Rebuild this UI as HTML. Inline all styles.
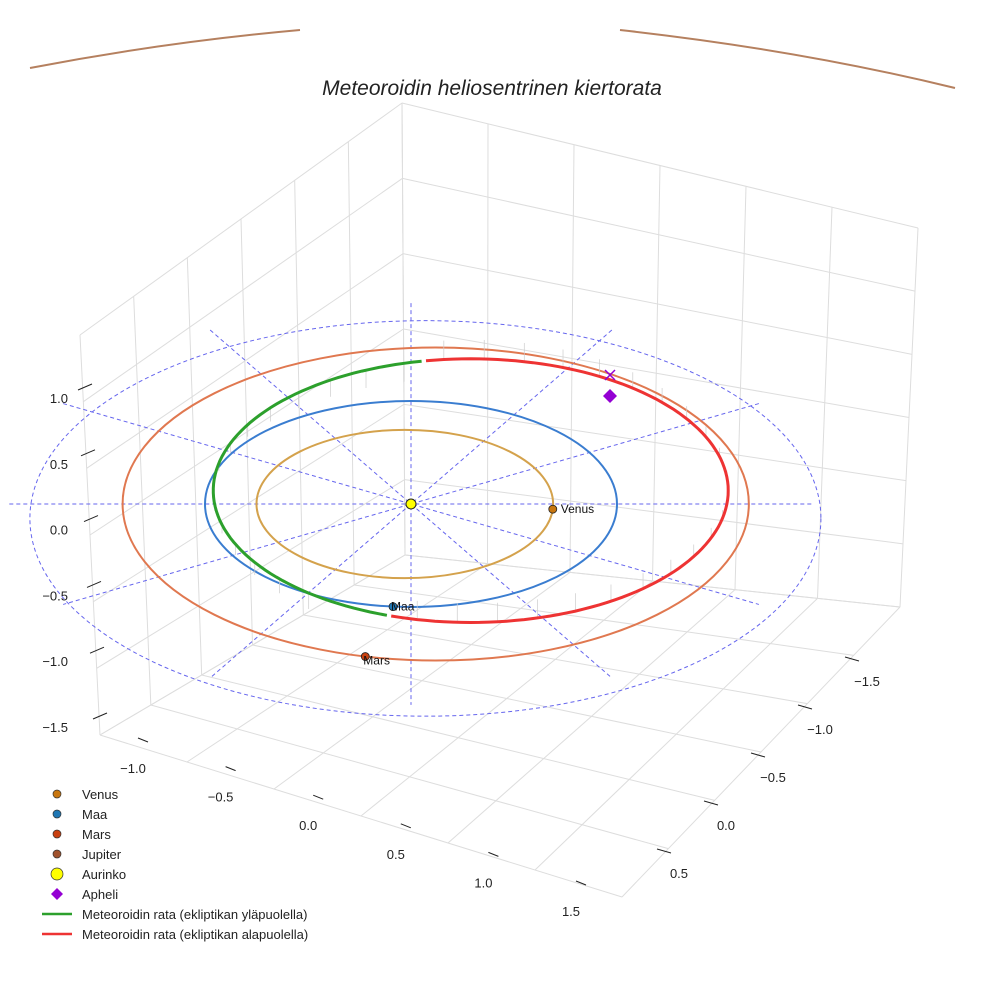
<!DOCTYPE html>
<html><head><meta charset="utf-8"><style>
body{margin:0;background:#fff}
svg{display:block;font-family:"Liberation Sans",sans-serif}
</style></head><body>
<svg id="c" width="984" height="984" viewBox="0 0 984 984">
<text x="492" y="95" text-anchor="middle" font-size="21" font-style="italic" fill="#222">Meteoroidin heliosentrinen kiertorata</text>
<path d="M30,68 Q165,42 300,30" fill="none" stroke="#b5805f" stroke-width="2"/>
<path d="M620,30 Q800,50 955,88" fill="none" stroke="#b5805f" stroke-width="2"/>
<g id="grid"></g><g id="plot"></g>
<g id="legend" font-size="13" fill="#222"></g>
</svg>
<script>
const zTicks=["1.0","0.5","0.0","\u22120.5","\u22121.0","\u22121.5"];
const xTicks=["\u22121.0","\u22120.5","0.0","0.5","1.0","1.5"];
const yTicks=["\u22121.5","\u22121.0","\u22120.5","0.0","0.5"];
const planetNames=["Venus","Maa","Mars"];
const planetRadius=[0.72,1.0,1.52];
const planetCenterX=[-0.03,0,0.12];
const planetAngle=[4,95,103];
const planetColors=["#d4a24c","#3a7dd0","#e07850"];
const dotColors=["#c8760f","#1f77b4","#c84010"];
const meteorCenter=[0.29,-0.13];
const meteorRadius=[1.25,1.28];
const greenRange=[109,260];
const NS="http://www.w3.org/2000/svg";
const svg=document.getElementById('c');
function el(t,a,p){const e=document.createElementNS(NS,t);for(const k in a)e.setAttribute(k,a[k]);(p||svg).appendChild(e);return e;}
const CX=411,CY=504,S=206;
function px(x){return CX+S*x;}
function py(y){return CY+S*0.5*y;}
const grid=document.getElementById('grid'),plot=document.getElementById('plot');
const A=[80,335],B=[402,103],C=[918,228],D=[900,607],E=[405,555],F=[100,735],G=[622,897];
function lerp(p,q,t){return [p[0]+(q[0]-p[0])*t,p[1]+(q[1]-p[1])*t];}
function wall(p0,p1,p2,p3,n,m,name){
 for(let i=0;i<=n;i++){const a=lerp(p0,p1,i/n),b=lerp(p3,p2,i/n);
  const l=el('line',{x1:a[0],y1:a[1],x2:b[0],y2:b[1],stroke:'#ddd','stroke-width':1},grid);
  }
 for(let j=0;j<=m;j++){const a=lerp(p0,p3,j/m),b=lerp(p1,p2,j/m);
  const l=el('line',{x1:a[0],y1:a[1],x2:b[0],y2:b[1],stroke:'#ddd','stroke-width':1},grid);
  }
}
wall(A,B,E,F,6,6,'left-wall');
wall(B,C,D,E,6,6,'right-wall');
wall(F,E,D,G,6,6,'floor');
zTicks.forEach((t,i)=>{const y=398+i*65.8;
 const l=el('line',{x1:78+i*3,y1:y-8,x2:92+i*3,y2:y-14,stroke:'#222'},grid);
 
 const tx=el('text',{x:68,y:y+5,'text-anchor':'end','font-size':13,fill:'#222'},grid);tx.textContent=t;
 });
xTicks.forEach((t,i)=>{const x=133+i*87.6,y=768+i*28.6;
 const l=el('line',{x1:x+5,y1:y-30,x2:x+15,y2:y-26,stroke:'#222'},grid);
 
 const tx=el('text',{x:x,y:y+5,'text-anchor':'middle','font-size':13,fill:'#222'},grid);tx.textContent=t;
 });
yTicks.forEach((t,i)=>{const x=867-i*47,y=681+i*48;
 const l=el('line',{x1:x-22,y1:y-24,x2:x-8,y2:y-20,stroke:'#222'},grid);
 
 const tx=el('text',{x:x,y:y+5,'text-anchor':'middle','font-size':13,fill:'#222'},grid);tx.textContent=t;
 });
const ref=el('ellipse',{cx:px(0.07),cy:py(0.14),rx:S*1.92,ry:S*1.92*0.5,fill:'none',stroke:'#6666ee','stroke-width':1,'stroke-dasharray':'4,3'},plot);

for(let k=0;k<6;k++){const a=k*Math.PI/6,r=1.95;
 const l=el('line',{x1:px(-r*Math.cos(a)),y1:py(-r*Math.sin(a)),x2:px(r*Math.cos(a)),y2:py(r*Math.sin(a)),stroke:'#6666ee','stroke-width':1,'stroke-dasharray':'4,3'},plot);
 }
planetNames.forEach((n,i)=>{const r=planetRadius[i];
 const o=el('ellipse',{cx:px(planetCenterX[i]),cy:CY,rx:S*r,ry:S*r*0.5,fill:'none',stroke:planetColors[i],'stroke-width':2},plot);
 });
function mpt(deg){const a=deg*Math.PI/180;return [px(meteorCenter[0]+meteorRadius[0]*Math.cos(a)),py(meteorCenter[1]+meteorRadius[1]*Math.sin(a))];}
function arc(a0,a1){let d='';for(let a=a0;a<=a1;a+=2){const p=mpt(a);d+=(d?'L':'M')+p[0].toFixed(1)+','+p[1].toFixed(1);}return d;}
for(let a=greenRange[0]+20;a<greenRange[0]+360;a+=9){const p=mpt(a);const h=(a>greenRange[1])?-1:1;
 const s=el('line',{x1:p[0],y1:p[1],x2:p[0],y2:p[1]+h*(5+14*Math.abs(Math.sin(a*Math.PI/180))),stroke:'#ccc','stroke-width':0.7},plot);
 }
const g=el('path',{d:arc(greenRange[0],greenRange[1]),fill:'none',stroke:'#2ca02c','stroke-width':3},plot);

const rr=el('path',{d:arc(greenRange[1],greenRange[0]+360),fill:'none',stroke:'#ee3333','stroke-width':3},plot);

planetNames.forEach((n,i)=>{const r=planetRadius[i],a=planetAngle[i]*Math.PI/180;
 const x=px(planetCenterX[i]+r*Math.cos(a)),y=py(r*Math.sin(a));
 const c=el('circle',{cx:x,cy:y,r:4,fill:dotColors[i],stroke:'#222','stroke-width':0.8},plot);
 
 const t=el('text',{x:x+(i==0?8:-2),y:y+(i==2?8:4),'font-size':12,fill:'#111'},plot);t.textContent=n;
 });
const sun=el('circle',{cx:CX,cy:CY,r:5,fill:'#ffff00',stroke:'#222','stroke-width':1},plot);

const ap=el('path',{d:'M610,389 L617,396 L610,403 L603,396Z',fill:'#9400d3'},plot);

const ax=el('path',{d:'M605,370 L615,380 M615,370 L605,380',stroke:'#9400d3','stroke-width':1.5},plot);

const lg=document.getElementById('legend');
const legNames=["Venus","Maa","Mars","Jupiter","Aurinko","Apheli","Meteoroidin rata (ekliptikan yläpuolella)","Meteoroidin rata (ekliptikan alapuolella)"];
const legColors=["#c8760f","#1f77b4","#c84010","#a0522d","#ffff00","#9400d3","#2ca02c","#ee3333"];
legNames.forEach((n,i)=>{const y=794+i*20;
 let m;
 if(i<5) m=el('circle',{cx:57,cy:y,r:i==4?6:4,fill:legColors[i],stroke:'#333','stroke-width':0.7},lg);
 else if(i==5) m=el('path',{d:`M57,${y-6} L63,${y} L57,${y+6} L51,${y}Z`,fill:legColors[i]},lg);
 else m=el('line',{x1:42,y1:y,x2:72,y2:y,stroke:legColors[i],'stroke-width':2.5},lg);
 
 const t=el('text',{x:82,y:y+5},lg);t.textContent=n;
 });
</script>
</body></html>
